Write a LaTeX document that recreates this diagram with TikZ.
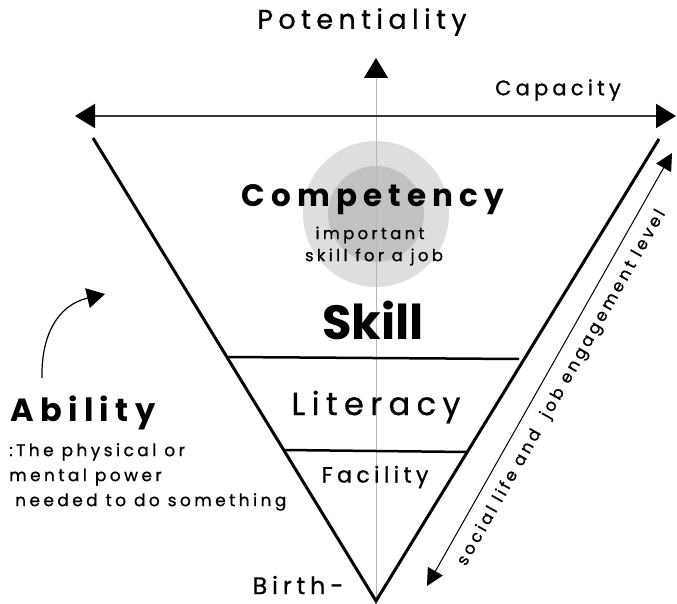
\documentclass[tikz,border=0pt]{standalone}
\usepackage{fontspec}
\setmainfont{Poppins}
\newfontfamily\handfont[LetterSpace=20, UprightFeatures={FakeBold=0.8}]{Poppins}
\usetikzlibrary{arrows.meta}

\definecolor{ringouter}{gray}{0.87}
\definecolor{ringinner}{gray}{0.76}
\definecolor{axisgray}{gray}{0.72}

\begin{document}
\begin{tikzpicture}[x=1pt, y=-1pt,
  word/.style={inner sep=0pt, font=\handfont\fontsize{#1}{#1}\selectfont},
  heading/.style={inner sep=0pt, font=\handfont\bfseries\fontsize{#1}{#1}\selectfont},
  side/.style={line width=3pt, line join=miter},
  band/.style={line width=2.5pt},
  bigtip/.tip={Triangle[length=20pt, width=24pt, color=black]},
  smalltip/.tip={Triangle[length=17pt, width=17pt]}
]
\useasboundingbox (0,0) rectangle (677,604);

% Corners and arrow ends
\coordinate (tl) at (93,138);
\coordinate (tr) at (659,139);
\coordinate (apex) at (376,601);
\coordinate (top) at (376,58);
\coordinate (capl) at (75,116);
\coordinate (capr) at (676,116);
\coordinate (lifelow) at (427,586);
\coordinate (lifehigh) at (672,153);
\coordinate (ablfrom) at (42,378);
\coordinate (ablto) at (105,294);

% Rings behind the top level
\fill[ringouter] (376,214) circle[radius=73pt];
\fill[ringinner] (376,214) circle[radius=48pt];

% Vertical axis
\draw[axisgray, line width=1pt, -bigtip] (apex) -- (top);

% Funnel and its levels
\draw[side] (tl) -- (apex) -- (tr);
\draw[band] (227,357) -- (519,359);
\draw[band] (284,450) -- (468,452);

% Arrows
\draw[black!80, line width=2pt, bigtip-bigtip] (capl) -- (capr);
\draw[line width=1pt, smalltip-smalltip] (lifelow) -- node[word=16.5, sloped, below=11pt, pos=0.48] {social life and\ \ job engagement level} (lifehigh);
\draw[line width=1.2pt, -{Triangle[length=18pt, width=20pt]}] (ablfrom) .. controls (41,335) and (58,305) .. (ablto);

% Nodes
\node[word=27] (potential) at (362,22) {Potentiality};
\node[word=21] (capacity) at (558,90) {Capacity};
\node[heading=31] (competency) at (373,200) {Competency};
\node[word=16.5] (important) at (370,235) {important};
\node[word=16.5] (forjob) at (374,257) {skill for a job};
\node[inner sep=0pt, font=\bfseries\fontsize{48}{48}\selectfont] (skill) at (373,320) {Skill};
\node[word=32] (literacy) at (376,407) {Literacy};
\node[word=22] (facility) at (375,477) {Facility};
\node[word=24] (birth) at (298,585) {Birth-};
\node[heading=32, anchor=west] (ability) at (10,413) {Ability};
\node[inner sep=0pt, anchor=north west, align=left, font=\handfont\fontsize{17}{25}\selectfont] (meaning) at (9,443) {:The physical or\\mental power\\\hspace*{6pt}needed to do something};

\end{tikzpicture}
\end{document}
